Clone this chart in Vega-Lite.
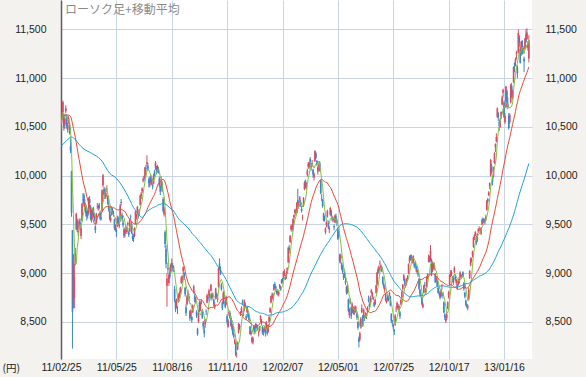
{
"$schema":"https://vega.github.io/schema/vega-lite/v6.json",
"width":471,"height":359,
"autosize":{"type":"none"},
"padding":{"left":61,"top":0,"right":54,"bottom":18},
"background":"#f4f2ef",
"view":{"fill":"#ffffff","stroke":null},
"datasets":{
"k":[
{"i":0,"o":10490,"h":10560,"l":10450,"c":10527},
{"i":1,"o":10570,"h":10650,"l":10540,"c":10624},
{"i":2,"o":10650,"h":10770,"l":10620,"c":10754},
{"i":3,"o":10620,"h":10640,"l":10460,"c":10492},
{"i":4,"o":10520,"h":10600,"l":10480,"c":10586},
{"i":5,"o":10660,"h":10720,"l":10640,"c":10693},
{"i":6,"o":10610,"h":10630,"l":10480,"c":10505},
{"i":7,"o":10470,"h":10540,"l":10440,"c":10525},
{"i":8,"o":10560,"h":10610,"l":10530,"c":10589},
{"i":9,"o":10520,"h":10540,"l":10420,"c":10434},
{"i":10,"o":10300,"h":10380,"l":10230,"c":10254},
{"i":11,"o":10044,"h":10050,"l":9578,"c":9620},
{"i":12,"o":9441,"h":9441,"l":8227,"c":8605},
{"i":13,"o":8728,"h":9194,"l":8640,"c":9093},
{"i":14,"o":8750,"h":9100,"l":8640,"c":8962},
{"i":15,"o":9100,"h":9260,"l":9080,"c":9206},
{"i":16,"o":9450,"h":9620,"l":9440,"c":9608},
{"i":17,"o":9540,"h":9560,"l":9420,"c":9449},
{"i":18,"o":9420,"h":9500,"l":9380,"c":9435},
{"i":19,"o":9500,"h":9560,"l":9470,"c":9536},
{"i":20,"o":9520,"h":9560,"l":9440,"c":9478},
{"i":21,"o":9380,"h":9480,"l":9350,"c":9459},
{"i":22,"o":9540,"h":9720,"l":9530,"c":9708},
{"i":23,"o":9760,"h":9820,"l":9710,"c":9755},
{"i":24,"o":9800,"h":9820,"l":9680,"c":9708},
{"i":25,"o":9680,"h":9760,"l":9650,"c":9718},
{"i":26,"o":9690,"h":9700,"l":9580,"c":9615},
{"i":27,"o":9620,"h":9640,"l":9540,"c":9584},
{"i":28,"o":9640,"h":9650,"l":9560,"c":9590},
{"i":29,"o":9620,"h":9780,"l":9600,"c":9768},
{"i":30,"o":9760,"h":9790,"l":9680,"c":9719},
{"i":31,"o":9680,"h":9700,"l":9540,"c":9555},
{"i":32,"o":9560,"h":9660,"l":9520,"c":9641},
{"i":33,"o":9620,"h":9670,"l":9590,"c":9653},
{"i":34,"o":9660,"h":9680,"l":9570,"c":9591},
{"i":35,"o":9590,"h":9620,"l":9530,"c":9556},
{"i":36,"o":9480,"h":9490,"l":9410,"c":9441},
{"i":37,"o":9520,"h":9620,"l":9500,"c":9606},
{"i":38,"o":9680,"h":9720,"l":9660,"c":9685},
{"i":39,"o":9670,"h":9700,"l":9640,"c":9682},
{"i":40,"o":9700,"h":9720,"l":9650,"c":9671},
{"i":41,"o":9620,"h":9630,"l":9540,"c":9558},
{"i":42,"o":9570,"h":9620,"l":9540,"c":9558},
{"i":43,"o":9640,"h":9860,"l":9630,"c":9850},
{"i":44,"o":9900,"h":10017,"l":9880,"c":10004},
{"i":45,"o":9800,"h":9880,"l":9760,"c":9859},
{"i":46,"o":9860,"h":9880,"l":9760,"c":9794},
{"i":47,"o":9780,"h":9830,"l":9760,"c":9818},
{"i":48,"o":9860,"h":9900,"l":9830,"c":9864},
{"i":49,"o":9790,"h":9800,"l":9700,"c":9716},
{"i":50,"o":9690,"h":9720,"l":9630,"c":9648},
{"i":51,"o":9640,"h":9660,"l":9540,"c":9558},
{"i":52,"o":9540,"h":9600,"l":9520,"c":9567},
{"i":53,"o":9610,"h":9680,"l":9590,"c":9662},
{"i":54,"o":9640,"h":9670,"l":9600,"c":9620},
{"i":55,"o":9610,"h":9640,"l":9580,"c":9607},
{"i":56,"o":9550,"h":9560,"l":9440,"c":9460},
{"i":57,"o":9450,"h":9500,"l":9430,"c":9477},
{"i":58,"o":9440,"h":9460,"l":9370,"c":9422},
{"i":59,"o":9480,"h":9590,"l":9470,"c":9562},
{"i":60,"o":9560,"h":9580,"l":9490,"c":9521},
{"i":61,"o":9480,"h":9530,"l":9460,"c":9504},
{"i":62,"o":9540,"h":9710,"l":9530,"c":9694},
{"i":63,"o":9730,"h":9760,"l":9690,"c":9720},
{"i":64,"o":9600,"h":9620,"l":9530,"c":9555},
{"i":65,"o":9520,"h":9550,"l":9470,"c":9492},
{"i":66,"o":9450,"h":9470,"l":9360,"c":9380},
{"i":67,"o":9400,"h":9460,"l":9370,"c":9442},
{"i":68,"o":9450,"h":9490,"l":9420,"c":9449},
{"i":69,"o":9420,"h":9480,"l":9400,"c":9467},
{"i":70,"o":9500,"h":9530,"l":9480,"c":9514},
{"i":71,"o":9420,"h":9440,"l":9370,"c":9392},
{"i":72,"o":9430,"h":9560,"l":9420,"c":9547},
{"i":73,"o":9580,"h":9600,"l":9550,"c":9574},
{"i":74,"o":9500,"h":9530,"l":9400,"c":9411},
{"i":75,"o":9380,"h":9410,"l":9330,"c":9351},
{"i":76,"o":9380,"h":9400,"l":9320,"c":9354},
{"i":77,"o":9380,"h":9470,"l":9370,"c":9459},
{"i":78,"o":9510,"h":9640,"l":9500,"c":9629},
{"i":79,"o":9570,"h":9610,"l":9550,"c":9596},
{"i":80,"o":9620,"h":9690,"l":9600,"c":9678},
{"i":81,"o":9600,"h":9620,"l":9560,"c":9578},
{"i":82,"o":9620,"h":9660,"l":9590,"c":9648},
{"i":83,"o":9700,"h":9800,"l":9690,"c":9797},
{"i":84,"o":9790,"h":9830,"l":9760,"c":9816},
{"i":85,"o":9840,"h":9880,"l":9820,"c":9868},
{"i":86,"o":9950,"h":9980,"l":9930,"c":9965},
{"i":87,"o":9990,"h":10000,"l":9940,"c":9972},
{"i":88,"o":9980,"h":10090,"l":9960,"c":10082},
{"i":89,"o":10080,"h":10110,"l":10040,"c":10071},
{"i":90,"o":10120,"h":10207,"l":10100,"c":10138},
{"i":91,"o":10100,"h":10130,"l":10050,"c":10069},
{"i":92,"o":9960,"h":9980,"l":9880,"c":9925},
{"i":93,"o":9900,"h":9990,"l":9880,"c":9963},
{"i":94,"o":9990,"h":10010,"l":9920,"c":9936},
{"i":95,"o":9920,"h":9990,"l":9900,"c":9974},
{"i":96,"o":9900,"h":9920,"l":9860,"c":9889},
{"i":97,"o":9920,"h":10020,"l":9910,"c":10005},
{"i":98,"o":10040,"h":10060,"l":9990,"c":10010},
{"i":99,"o":10080,"h":10150,"l":10060,"c":10132},
{"i":100,"o":10080,"h":10100,"l":10020,"c":10050},
{"i":101,"o":10040,"h":10110,"l":10030,"c":10097},
{"i":102,"o":10070,"h":10090,"l":10020,"c":10047},
{"i":103,"o":9970,"h":9990,"l":9880,"c":9901},
{"i":104,"o":9890,"h":9900,"l":9800,"c":9833},
{"i":105,"o":9900,"h":9990,"l":9880,"c":9965},
{"i":106,"o":9920,"h":9940,"l":9830,"c":9844},
{"i":107,"o":9760,"h":9780,"l":9620,"c":9637},
{"i":108,"o":9600,"h":9680,"l":9580,"c":9659},
{"i":109,"o":9420,"h":9440,"l":9260,"c":9299},
{"i":110,"o":9250,"h":9290,"l":9050,"c":9097},
{"i":111,"o":8870,"h":9000,"l":8656,"c":8944},
{"i":112,"o":9050,"h":9110,"l":9000,"c":9038},
{"i":113,"o":8900,"h":9000,"l":8870,"c":8981},
{"i":114,"o":9020,"h":9060,"l":8940,"c":8964},
{"i":115,"o":9020,"h":9100,"l":9000,"c":9086},
{"i":116,"o":9090,"h":9150,"l":9060,"c":9107},
{"i":117,"o":9080,"h":9100,"l":9020,"c":9057},
{"i":118,"o":9050,"h":9080,"l":9010,"c":9058},
{"i":119,"o":8840,"h":8870,"l":8700,"c":8719},
{"i":120,"o":8700,"h":8720,"l":8600,"c":8628},
{"i":121,"o":8660,"h":8740,"l":8640,"c":8733},
{"i":122,"o":8640,"h":8660,"l":8580,"c":8639},
{"i":123,"o":8710,"h":8790,"l":8700,"c":8772},
{"i":124,"o":8760,"h":8810,"l":8740,"c":8797},
{"i":125,"o":8800,"h":8860,"l":8790,"c":8851},
{"i":126,"o":8900,"h":8970,"l":8890,"c":8954},
{"i":127,"o":8940,"h":8980,"l":8900,"c":8955},
{"i":128,"o":9020,"h":9070,"l":8990,"c":9060},
{"i":129,"o":9000,"h":9010,"l":8930,"c":8950},
{"i":130,"o":8850,"h":8860,"l":8760,"c":8784},
{"i":131,"o":8650,"h":8680,"l":8560,"c":8590},
{"i":132,"o":8680,"h":8780,"l":8670,"c":8763},
{"i":133,"o":8790,"h":8830,"l":8760,"c":8793},
{"i":134,"o":8760,"h":8790,"l":8710,"c":8737},
{"i":135,"o":8610,"h":8620,"l":8510,"c":8535},
{"i":136,"o":8560,"h":8630,"l":8540,"c":8616},
{"i":137,"o":8550,"h":8560,"l":8490,"c":8518},
{"i":138,"o":8600,"h":8680,"l":8590,"c":8668},
{"i":139,"o":8800,"h":8880,"l":8790,"c":8864},
{"i":140,"o":8760,"h":8790,"l":8700,"c":8721},
{"i":141,"o":8700,"h":8760,"l":8690,"c":8741},
{"i":142,"o":8600,"h":8620,"l":8540,"c":8560},
{"i":143,"o":8430,"h":8440,"l":8359,"c":8374},
{"i":144,"o":8500,"h":8620,"l":8490,"c":8609},
{"i":145,"o":8700,"h":8720,"l":8600,"c":8615},
{"i":146,"o":8630,"h":8710,"l":8610,"c":8701},
{"i":147,"o":8710,"h":8730,"l":8680,"c":8700},
{"i":148,"o":8600,"h":8620,"l":8530,"c":8545},
{"i":149,"o":8490,"h":8510,"l":8420,"c":8456},
{"i":150,"o":8420,"h":8460,"l":8343,"c":8382},
{"i":151,"o":8470,"h":8530,"l":8440,"c":8522},
{"i":152,"o":8610,"h":8630,"l":8570,"c":8605},
{"i":153,"o":8700,"h":8790,"l":8690,"c":8773},
{"i":154,"o":8750,"h":8770,"l":8710,"c":8738},
{"i":155,"o":8770,"h":8840,"l":8750,"c":8823},
{"i":156,"o":8780,"h":8790,"l":8720,"c":8747},
{"i":157,"o":8820,"h":8890,"l":8810,"c":8879},
{"i":158,"o":8790,"h":8800,"l":8720,"c":8742},
{"i":159,"o":8760,"h":8800,"l":8740,"c":8772},
{"i":160,"o":8730,"h":8740,"l":8660,"c":8682},
{"i":161,"o":8650,"h":8700,"l":8630,"c":8678},
{"i":162,"o":8740,"h":8850,"l":8730,"c":8843},
{"i":163,"o":8790,"h":8800,"l":8740,"c":8762},
{"i":164,"o":8730,"h":8780,"l":8700,"c":8748},
{"i":165,"o":8860,"h":9060,"l":8850,"c":9050},
{"i":166,"o":9100,"h":9152,"l":9030,"c":9050},
{"i":167,"o":9040,"h":9070,"l":8980,"c":8988},
{"i":168,"o":8880,"h":8900,"l":8820,"c":8835},
{"i":169,"o":8700,"h":8710,"l":8620,"c":8640},
{"i":170,"o":8690,"h":8820,"l":8680,"c":8801},
{"i":171,"o":8780,"h":8800,"l":8730,"c":8767},
{"i":172,"o":8720,"h":8730,"l":8640,"c":8655},
{"i":173,"o":8680,"h":8770,"l":8670,"c":8755},
{"i":174,"o":8560,"h":8580,"l":8475,"c":8500},
{"i":175,"o":8450,"h":8530,"l":8440,"c":8514},
{"i":176,"o":8580,"h":8620,"l":8560,"c":8603},
{"i":177,"o":8590,"h":8610,"l":8530,"c":8541},
{"i":178,"o":8540,"h":8560,"l":8450,"c":8463},
{"i":179,"o":8430,"h":8490,"l":8410,"c":8479},
{"i":180,"o":8450,"h":8460,"l":8360,"c":8374},
{"i":181,"o":8370,"h":8390,"l":8330,"c":8348},
{"i":182,"o":8280,"h":8330,"l":8270,"c":8314},
{"i":183,"o":8280,"h":8290,"l":8150,"c":8165},
{"i":184,"o":8160,"h":8190,"l":8135,"c":8160},
{"i":185,"o":8220,"h":8300,"l":8210,"c":8287},
{"i":186,"o":8390,"h":8490,"l":8380,"c":8477},
{"i":187,"o":8470,"h":8480,"l":8420,"c":8434},
{"i":188,"o":8570,"h":8610,"l":8560,"c":8597},
{"i":189,"o":8600,"h":8660,"l":8590,"c":8643},
{"i":190,"o":8700,"h":8730,"l":8670,"c":8695},
{"i":191,"o":8610,"h":8620,"l":8560,"c":8575},
{"i":192,"o":8620,"h":8730,"l":8610,"c":8722},
{"i":193,"o":8680,"h":8700,"l":8640,"c":8664},
{"i":194,"o":8560,"h":8580,"l":8520,"c":8536},
{"i":195,"o":8600,"h":8660,"l":8590,"c":8653},
{"i":196,"o":8590,"h":8600,"l":8540,"c":8553},
{"i":197,"o":8550,"h":8570,"l":8500,"c":8519},
{"i":198,"o":8450,"h":8460,"l":8370,"c":8377},
{"i":199,"o":8370,"h":8420,"l":8360,"c":8401},
{"i":200,"o":8340,"h":8350,"l":8280,"c":8296},
{"i":201,"o":8290,"h":8350,"l":8270,"c":8336},
{"i":202,"o":8420,"h":8470,"l":8400,"c":8459},
{"i":203,"o":8450,"h":8460,"l":8380,"c":8395},
{"i":204,"o":8440,"h":8490,"l":8430,"c":8479},
{"i":205,"o":8470,"h":8480,"l":8430,"c":8440},
{"i":206,"o":8440,"h":8460,"l":8410,"c":8423},
{"i":207,"o":8390,"h":8410,"l":8350,"c":8398},
{"i":208,"o":8410,"h":8460,"l":8400,"c":8455},
{"i":209,"o":8520,"h":8570,"l":8500,"c":8560},
{"i":210,"o":8510,"h":8530,"l":8470,"c":8488},
{"i":211,"o":8450,"h":8460,"l":8370,"c":8390},
{"i":212,"o":8410,"h":8430,"l":8360,"c":8422},
{"i":213,"o":8410,"h":8460,"l":8400,"c":8447},
{"i":214,"o":8420,"h":8430,"l":8350,"c":8385},
{"i":215,"o":8430,"h":8510,"l":8420,"c":8500},
{"i":216,"o":8420,"h":8440,"l":8360,"c":8378},
{"i":217,"o":8400,"h":8480,"l":8390,"c":8466},
{"i":218,"o":8500,"h":8560,"l":8490,"c":8550},
{"i":219,"o":8600,"h":8650,"l":8590,"c":8639},
{"i":220,"o":8700,"h":8770,"l":8690,"c":8766},
{"i":221,"o":8770,"h":8800,"l":8740,"c":8765},
{"i":222,"o":8740,"h":8800,"l":8720,"c":8785},
{"i":223,"o":8830,"h":8890,"l":8820,"c":8883},
{"i":224,"o":8890,"h":8910,"l":8840,"c":8849},
{"i":225,"o":8860,"h":8870,"l":8810,"c":8841},
{"i":226,"o":8820,"h":8830,"l":8780,"c":8793},
{"i":227,"o":8790,"h":8820,"l":8770,"c":8802},
{"i":228,"o":8780,"h":8820,"l":8760,"c":8809},
{"i":229,"o":8860,"h":8890,"l":8840,"c":8876},
{"i":230,"o":8860,"h":8870,"l":8820,"c":8831},
{"i":231,"o":8900,"h":8940,"l":8890,"c":8929},
{"i":232,"o":8940,"h":8950,"l":8900,"c":8917},
{"i":233,"o":8950,"h":9020,"l":8940,"c":9015},
{"i":234,"o":9000,"h":9040,"l":8970,"c":9002},
{"i":235,"o":8960,"h":8980,"l":8930,"c":8947},
{"i":236,"o":8960,"h":9020,"l":8940,"c":8999},
{"i":237,"o":9000,"h":9060,"l":8990,"c":9052},
{"i":238,"o":9110,"h":9270,"l":9100,"c":9260},
{"i":239,"o":9260,"h":9290,"l":9200,"c":9238},
{"i":240,"o":9320,"h":9390,"l":9310,"c":9384},
{"i":241,"o":9450,"h":9500,"l":9430,"c":9485},
{"i":242,"o":9480,"h":9500,"l":9420,"c":9463},
{"i":243,"o":9450,"h":9560,"l":9440,"c":9554},
{"i":244,"o":9570,"h":9600,"l":9520,"c":9595},
{"i":245,"o":9620,"h":9660,"l":9600,"c":9647},
{"i":246,"o":9640,"h":9660,"l":9590,"c":9633},
{"i":247,"o":9620,"h":9730,"l":9610,"c":9722},
{"i":248,"o":9750,"h":9866,"l":9690,"c":9723},
{"i":249,"o":9680,"h":9740,"l":9660,"c":9707},
{"i":250,"o":9750,"h":9790,"l":9720,"c":9777},
{"i":251,"o":9730,"h":9750,"l":9680,"c":9698},
{"i":252,"o":9660,"h":9690,"l":9620,"c":9637},
{"i":253,"o":9570,"h":9600,"l":9540,"c":9576},
{"i":254,"o":9690,"h":9780,"l":9680,"c":9768},
{"i":255,"o":9860,"h":9940,"l":9850,"c":9929},
{"i":256,"o":9950,"h":9960,"l":9870,"c":9889},
{"i":257,"o":9890,"h":9930,"l":9860,"c":9899},
{"i":258,"o":10010,"h":10070,"l":9990,"c":10050},
{"i":259,"o":10090,"h":10140,"l":10070,"c":10123},
{"i":260,"o":10090,"h":10140,"l":10070,"c":10129},
{"i":261,"o":10170,"h":10190,"l":10110,"c":10141},
{"i":262,"o":10100,"h":10130,"l":10050,"c":10086},
{"i":263,"o":10120,"h":10160,"l":10090,"c":10127},
{"i":264,"o":10060,"h":10070,"l":9980,"c":10011},
{"i":265,"o":9980,"h":10030,"l":9950,"c":10018},
{"i":266,"o":10150,"h":10255,"l":10140,"c":10255},
{"i":267,"o":10230,"h":10240,"l":10170,"c":10182},
{"i":268,"o":10150,"h":10160,"l":10100,"c":10115},
{"i":269,"o":10040,"h":10100,"l":10010,"c":10083},
{"i":270,"o":10100,"h":10130,"l":10060,"c":10109},
{"i":271,"o":10130,"h":10150,"l":10040,"c":10050},
{"i":272,"o":9950,"h":9960,"l":9810,"c":9819},
{"i":273,"o":9770,"h":9810,"l":9740,"c":9767},
{"i":274,"o":9750,"h":9760,"l":9670,"c":9688},
{"i":275,"o":9610,"h":9620,"l":9530,"c":9546},
{"i":276,"o":9570,"h":9590,"l":9530,"c":9538},
{"i":277,"o":9420,"h":9470,"l":9400,"c":9458},
{"i":278,"o":9490,"h":9540,"l":9470,"c":9524},
{"i":279,"o":9580,"h":9650,"l":9570,"c":9637},
{"i":280,"o":9520,"h":9540,"l":9450,"c":9470},
{"i":281,"o":9450,"h":9480,"l":9410,"c":9464},
{"i":282,"o":9600,"h":9680,"l":9590,"c":9667},
{"i":283,"o":9640,"h":9650,"l":9570,"c":9588},
{"i":284,"o":9550,"h":9590,"l":9530,"c":9561},
{"i":285,"o":9560,"h":9580,"l":9520,"c":9542},
{"i":286,"o":9480,"h":9500,"l":9440,"c":9468},
{"i":287,"o":9520,"h":9600,"l":9510,"c":9590},
{"i":288,"o":9580,"h":9610,"l":9540,"c":9561},
{"i":289,"o":9540,"h":9560,"l":9480,"c":9520},
{"i":290,"o":9450,"h":9470,"l":9340,"c":9350},
{"i":291,"o":9390,"h":9420,"l":9360,"c":9380},
{"i":292,"o":9190,"h":9200,"l":9100,"c":9119},
{"i":293,"o":9150,"h":9200,"l":9100,"c":9181},
{"i":294,"o":9100,"h":9110,"l":9030,"c":9045},
{"i":295,"o":9060,"h":9080,"l":8990,"c":9009},
{"i":296,"o":8980,"h":9000,"l":8930,"c":8953},
{"i":297,"o":8990,"h":9020,"l":8950,"c":8973},
{"i":298,"o":8920,"h":8960,"l":8880,"c":8900},
{"i":299,"o":8860,"h":8870,"l":8780,"c":8801},
{"i":300,"o":8800,"h":8890,"l":8790,"c":8876},
{"i":301,"o":8730,"h":8740,"l":8600,"c":8611},
{"i":302,"o":8570,"h":8640,"l":8540,"c":8634},
{"i":303,"o":8690,"h":8740,"l":8680,"c":8729},
{"i":304,"o":8650,"h":8660,"l":8530,"c":8556},
{"i":305,"o":8600,"h":8700,"l":8590,"c":8680},
{"i":306,"o":8650,"h":8660,"l":8580,"c":8593},
{"i":307,"o":8580,"h":8620,"l":8570,"c":8593},
{"i":308,"o":8600,"h":8670,"l":8590,"c":8657},
{"i":309,"o":8630,"h":8660,"l":8600,"c":8633},
{"i":310,"o":8590,"h":8600,"l":8520,"c":8543},
{"i":311,"o":8500,"h":8510,"l":8420,"c":8440},
{"i":312,"o":8330,"h":8350,"l":8238,"c":8296},
{"i":313,"o":8320,"h":8400,"l":8300,"c":8383},
{"i":314,"o":8440,"h":8550,"l":8430,"c":8533},
{"i":315,"o":8600,"h":8680,"l":8590,"c":8639},
{"i":316,"o":8560,"h":8570,"l":8450,"c":8459},
{"i":317,"o":8540,"h":8640,"l":8530,"c":8624},
{"i":318,"o":8560,"h":8570,"l":8510,"c":8536},
{"i":319,"o":8560,"h":8600,"l":8540,"c":8568},
{"i":320,"o":8560,"h":8590,"l":8530,"c":8568},
{"i":321,"o":8600,"h":8660,"l":8590,"c":8647},
{"i":322,"o":8730,"h":8770,"l":8700,"c":8721},
{"i":323,"o":8680,"h":8700,"l":8630,"c":8655},
{"i":324,"o":8700,"h":8770,"l":8690,"c":8752},
{"i":325,"o":8800,"h":8840,"l":8790,"c":8824},
{"i":326,"o":8760,"h":8810,"l":8740,"c":8798},
{"i":327,"o":8750,"h":8760,"l":8720,"c":8735},
{"i":328,"o":8700,"h":8710,"l":8650,"c":8663},
{"i":329,"o":8680,"h":8740,"l":8670,"c":8730},
{"i":330,"o":8800,"h":8880,"l":8790,"c":8874},
{"i":331,"o":8880,"h":9010,"l":8870,"c":9007},
{"i":332,"o":9040,"h":9060,"l":8990,"c":9003},
{"i":333,"o":9020,"h":9080,"l":9000,"c":9066},
{"i":334,"o":9100,"h":9130,"l":9080,"c":9104},
{"i":335,"o":9060,"h":9090,"l":9040,"c":9079},
{"i":336,"o":9060,"h":9070,"l":9010,"c":9020},
{"i":337,"o":8960,"h":8970,"l":8880,"c":8896},
{"i":338,"o":8890,"h":8900,"l":8840,"c":8857},
{"i":339,"o":8830,"h":8870,"l":8800,"c":8851},
{"i":340,"o":8790,"h":8800,"l":8710,"c":8720},
{"i":341,"o":8700,"h":8740,"l":8690,"c":8724},
{"i":342,"o":8740,"h":8780,"l":8720,"c":8755},
{"i":343,"o":8760,"h":8770,"l":8710,"c":8726},
{"i":344,"o":8780,"h":8810,"l":8760,"c":8795},
{"i":345,"o":8760,"h":8770,"l":8660,"c":8669},
{"i":346,"o":8580,"h":8590,"l":8490,"c":8508},
{"i":347,"o":8490,"h":8520,"l":8460,"c":8488},
{"i":348,"o":8470,"h":8480,"l":8420,"c":8443},
{"i":349,"o":8420,"h":8430,"l":8365,"c":8399},
{"i":350,"o":8470,"h":8580,"l":8460,"c":8566},
{"i":351,"o":8630,"h":8660,"l":8600,"c":8635},
{"i":352,"o":8650,"h":8710,"l":8630,"c":8695},
{"i":353,"o":8660,"h":8680,"l":8620,"c":8640},
{"i":354,"o":8620,"h":8680,"l":8600,"c":8664},
{"i":355,"o":8600,"h":8610,"l":8530,"c":8555},
{"i":356,"o":8680,"h":8740,"l":8670,"c":8726},
{"i":357,"o":8750,"h":8820,"l":8740,"c":8804},
{"i":358,"o":8840,"h":8890,"l":8820,"c":8882},
{"i":359,"o":8930,"h":8990,"l":8920,"c":8978},
{"i":360,"o":8940,"h":8950,"l":8870,"c":8891},
{"i":361,"o":8870,"h":8900,"l":8850,"c":8885},
{"i":362,"o":8900,"h":8950,"l":8880,"c":8929},
{"i":363,"o":8960,"h":8980,"l":8920,"c":8947},
{"i":364,"o":9000,"h":9100,"l":8990,"c":9092},
{"i":365,"o":9120,"h":9180,"l":9100,"c":9162},
{"i":366,"o":9180,"h":9190,"l":9130,"c":9171},
{"i":367,"o":9170,"h":9190,"l":9130,"c":9157},
{"i":368,"o":9130,"h":9160,"l":9100,"c":9131},
{"i":369,"o":9110,"h":9180,"l":9100,"c":9178},
{"i":370,"o":9100,"h":9110,"l":9050,"c":9070},
{"i":371,"o":9100,"h":9120,"l":9060,"c":9085},
{"i":372,"o":9070,"h":9080,"l":9010,"c":9034},
{"i":373,"o":9010,"h":9050,"l":8990,"c":9033},
{"i":374,"o":9000,"h":9010,"l":8960,"c":8983},
{"i":375,"o":8940,"h":8950,"l":8830,"c":8840},
{"i":376,"o":8830,"h":8840,"l":8760,"c":8783},
{"i":377,"o":8780,"h":8800,"l":8750,"c":8775},
{"i":378,"o":8750,"h":8760,"l":8670,"c":8680},
{"i":379,"o":8650,"h":8700,"l":8640,"c":8680},
{"i":380,"o":8800,"h":8880,"l":8790,"c":8872},
{"i":381,"o":8880,"h":8910,"l":8850,"c":8869},
{"i":382,"o":8830,"h":8850,"l":8790,"c":8807},
{"i":383,"o":8860,"h":8970,"l":8850,"c":8959},
{"i":384,"o":8960,"h":9000,"l":8940,"c":8995},
{"i":385,"o":9120,"h":9190,"l":9110,"c":9159},
{"i":386,"o":9170,"h":9180,"l":9110,"c":9123},
{"i":387,"o":9130,"h":9288,"l":9120,"c":9232},
{"i":388,"o":9140,"h":9150,"l":8970,"c":8977},
{"i":389,"o":9020,"h":9120,"l":9010,"c":9110},
{"i":390,"o":9080,"h":9100,"l":9040,"c":9069},
{"i":391,"o":9040,"h":9110,"l":9030,"c":9091},
{"i":392,"o":8990,"h":9000,"l":8900,"c":8906},
{"i":393,"o":8930,"h":8960,"l":8910,"c":8949},
{"i":394,"o":8920,"h":8940,"l":8860,"c":8870},
{"i":395,"o":8850,"h":8860,"l":8790,"c":8797},
{"i":396,"o":8790,"h":8820,"l":8770,"c":8786},
{"i":397,"o":8800,"h":8810,"l":8730,"c":8746},
{"i":398,"o":8760,"h":8840,"l":8750,"c":8824},
{"i":399,"o":8860,"h":8890,"l":8830,"c":8863},
{"i":400,"o":8790,"h":8810,"l":8740,"c":8769},
{"i":401,"o":8700,"h":8710,"l":8590,"c":8596},
{"i":402,"o":8580,"h":8590,"l":8520,"c":8546},
{"i":403,"o":8510,"h":8560,"l":8488,"c":8534},
{"i":404,"o":8540,"h":8600,"l":8520,"c":8577},
{"i":405,"o":8640,"h":8710,"l":8630,"c":8701},
{"i":406,"o":8750,"h":8820,"l":8740,"c":8806},
{"i":407,"o":8880,"h":8990,"l":8870,"c":8982},
{"i":408,"o":8990,"h":9030,"l":8960,"c":9002},
{"i":409,"o":8990,"h":9030,"l":8970,"c":9010},
{"i":410,"o":8960,"h":8970,"l":8910,"c":8930},
{"i":411,"o":8900,"h":8970,"l":8880,"c":8955},
{"i":412,"o":9010,"h":9070,"l":9000,"c":9055},
{"i":413,"o":8980,"h":8990,"l":8920,"c":8933},
{"i":414,"o":8900,"h":8940,"l":8880,"c":8929},
{"i":415,"o":8880,"h":8890,"l":8830,"c":8841},
{"i":416,"o":8880,"h":8940,"l":8870,"c":8928},
{"i":417,"o":8900,"h":8960,"l":8890,"c":8946},
{"i":418,"o":8960,"h":9020,"l":8950,"c":9007},
{"i":419,"o":8970,"h":8990,"l":8940,"c":8975},
{"i":420,"o":8980,"h":8990,"l":8950,"c":8975},
{"i":421,"o":9010,"h":9020,"l":8960,"c":8972},
{"i":422,"o":8900,"h":8910,"l":8820,"c":8837},
{"i":423,"o":8800,"h":8810,"l":8740,"c":8757},
{"i":424,"o":8720,"h":8730,"l":8660,"c":8676},
{"i":425,"o":8680,"h":8690,"l":8640,"c":8661},
{"i":426,"o":8640,"h":8680,"l":8619,"c":8664},
{"i":427,"o":8740,"h":8850,"l":8730,"c":8830},
{"i":428,"o":8950,"h":9030,"l":8940,"c":9024},
{"i":429,"o":9080,"h":9160,"l":9070,"c":9153},
{"i":430,"o":9130,"h":9160,"l":9110,"c":9142},
{"i":431,"o":9180,"h":9230,"l":9160,"c":9222},
{"i":432,"o":9270,"h":9370,"l":9260,"c":9366},
{"i":433,"o":9370,"h":9400,"l":9340,"c":9389},
{"i":434,"o":9400,"h":9430,"l":9380,"c":9423},
{"i":435,"o":9370,"h":9380,"l":9290,"c":9308},
{"i":436,"o":9330,"h":9410,"l":9320,"c":9400},
{"i":437,"o":9430,"h":9460,"l":9410,"c":9446},
{"i":438,"o":9450,"h":9480,"l":9430,"c":9458},
{"i":439,"o":9430,"h":9450,"l":9400,"c":9432},
{"i":440,"o":9410,"h":9470,"l":9390,"c":9468},
{"i":441,"o":9500,"h":9560,"l":9490,"c":9545},
{"i":442,"o":9560,"h":9570,"l":9510,"c":9527},
{"i":443,"o":9530,"h":9560,"l":9510,"c":9534},
{"i":444,"o":9550,"h":9560,"l":9500,"c":9525},
{"i":445,"o":9560,"h":9600,"l":9540,"c":9581},
{"i":446,"o":9650,"h":9750,"l":9640,"c":9742},
{"i":447,"o":9760,"h":9770,"l":9720,"c":9737},
{"i":448,"o":9800,"h":9840,"l":9790,"c":9828},
{"i":449,"o":9890,"h":9930,"l":9860,"c":9923},
{"i":450,"o":10000,"h":10170,"l":9990,"c":10160},
{"i":451,"o":10100,"h":10120,"l":10020,"c":10039},
{"i":452,"o":9990,"h":10000,"l":9900,"c":9940},
{"i":453,"o":9990,"h":10090,"l":9980,"c":10080},
{"i":454,"o":10130,"h":10240,"l":10120,"c":10230},
{"i":455,"o":10290,"h":10330,"l":10240,"c":10322},
{"i":456,"o":10350,"h":10433,"l":10340,"c":10395},
{"i":457,"o":10600,"h":10700,"l":10590,"c":10688},
{"i":458,"o":10640,"h":10650,"l":10560,"c":10599},
{"i":459,"o":10550,"h":10560,"l":10460,"c":10508},
{"i":460,"o":10500,"h":10590,"l":10490,"c":10578},
{"i":461,"o":10600,"h":10660,"l":10580,"c":10652},
{"i":462,"o":10730,"h":10820,"l":10720,"c":10801},
{"i":463,"o":10850,"h":10890,"l":10800,"c":10879},
{"i":464,"o":10750,"h":10770,"l":10590,"c":10600},
{"i":465,"o":10550,"h":10640,"l":10530,"c":10610},
{"i":466,"o":10700,"h":10920,"l":10690,"c":10913},
{"i":467,"o":10870,"h":10880,"l":10740,"c":10748},
{"i":468,"o":10740,"h":10800,"l":10680,"c":10709},
{"i":469,"o":10620,"h":10640,"l":10470,"c":10487},
{"i":470,"o":10550,"h":10640,"l":10530,"c":10620},
{"i":471,"o":10750,"h":10940,"l":10740,"c":10926},
{"i":472,"o":10920,"h":10950,"l":10800,"c":10824},
{"i":473,"o":10800,"h":10880,"l":10780,"c":10866},
{"i":474,"o":10960,"h":11120,"l":10950,"c":11113},
{"i":475,"o":11150,"h":11160,"l":11060,"c":11138},
{"i":476,"o":11160,"h":11210,"l":11120,"c":11191},
{"i":477,"o":11250,"h":11280,"l":11190,"c":11260},
{"i":478,"o":11110,"h":11130,"l":11000,"c":11046},
{"i":479,"o":11260,"h":11498,"l":11250,"c":11463},
{"i":480,"o":11420,"h":11440,"l":11320,"c":11357},
{"i":481,"o":11300,"h":11320,"l":11150,"c":11153},
{"i":482,"o":11250,"h":11380,"l":11230,"c":11369},
{"i":483,"o":11380,"h":11390,"l":11240,"c":11251},
{"i":484,"o":11290,"h":11330,"l":11250,"c":11307},
{"i":485,"o":11200,"h":11220,"l":11060,"c":11173},
{"i":486,"o":11300,"h":11410,"l":11290,"c":11407},
{"i":487,"o":11450,"h":11500,"l":11360,"c":11372},
{"i":488,"o":11400,"h":11510,"l":11390,"c":11468},
{"i":489,"o":11350,"h":11380,"l":11280,"c":11310},
{"i":490,"o":11200,"h":11440,"l":11160,"c":11385}
],
"r0":[{"i":0,"v":10600},{"i":4,"v":10620},{"i":8,"v":10620},{"i":10,"v":10605},{"i":11,"v":10580},{"i":12,"v":10530},{"i":14,"v":10440},{"i":16,"v":10340},{"i":18,"v":10220},{"i":20,"v":10110},{"i":22,"v":10000},{"i":24,"v":9904}],
"b0":[{"i":0,"v":10300},{"i":6,"v":10360},{"i":11,"v":10395},{"i":15,"v":10370},{"i":19,"v":10320},{"i":23,"v":10280},{"i":32,"v":10229},{"i":42,"v":10160},{"i":51,"v":10024},{"i":58,"v":9972},{"i":66,"v":9862},{"i":74,"v":9712}],
"ttl":[{"t":"ローソク足+移動平均","i":0,"v":11800}]
},
"data":{"name":"k"},
"encoding":{
"x":{"field":"i","type":"quantitative","scale":{"domain":[0,493.3],"nice":false,"zero":false},
"axis":{"orient":"bottom","title":null,"values":[0,58,116,174,232,290,348,406,464],
"labelExpr":"['11/02/25','11/05/25','11/08/16','11/11/10','12/02/07','12/05/01','12/07/25','12/10/17','13/01/16'][round(datum.value/58)]",
"labelFont":"Liberation Sans","labelFontSize":10.5,"labelColor":"#222222","labelPadding":3,"labelFlush":false,"labelOverlap":false,
"ticks":false,"domain":false,"grid":true,"gridColor":"#c9d4e4","gridWidth":1}}
},
"layer":[
{"mark":{"type":"rule","strokeWidth":1,"clip":true},
"encoding":{
"y":{"field":"l","type":"quantitative","scale":{"domain":[8120,11800],"nice":false,"zero":false},
"axis":{"orient":"left","title":"(円)","titleAngle":0,"titleX":-59,"titleY":368,"titleAlign":"left","titleBaseline":"middle","titleFont":"Noto Sans CJK JP","titleFontSize":10.5,"titleFontWeight":"normal","titleColor":"#222222",
"values":[8500,9000,9500,10000,10500,11000,11500],"format":",.0f","labelFont":"Liberation Sans","labelFontSize":10.5,"labelColor":"#222222","labelPadding":15,
"ticks":false,"domain":true,"domainColor":"#5e5e5e","domainWidth":1.5,"grid":true,"gridColor":"#c9d4e4","gridWidth":1}},
"y2":{"field":"h"},
"color":{"condition":{"test":"datum.c >= datum.o","value":"#dd4a63"},"value":"#3d86c6"}}},
{"mark":{"type":"rule","strokeWidth":1.6,"clip":true},
"encoding":{
"y":{"field":"o","type":"quantitative","scale":{"domain":[8120,11800],"nice":false,"zero":false},
"axis":{"orient":"right","title":null,"values":[8500,9000,9500,10000,10500,11000,11500],"format":",.0f","labelFont":"Liberation Sans","labelFontSize":10.5,"labelColor":"#222222","labelPadding":13,"labelAlign":"left",
"ticks":false,"domain":false,"grid":false}},
"y2":{"field":"c"},
"color":{"condition":{"test":"datum.c >= datum.o","value":"#dd4a63"},"value":"#3d86c6"}}},
{"transform":[{"window":[{"op":"mean","field":"c","as":"m5"}],"frame":[-4,0],"sort":[{"field":"i"}]}],
"mark":{"type":"line","color":"#7cc242","strokeWidth":1,"clip":true},
"encoding":{"y":{"field":"m5","type":"quantitative","scale":{"domain":[8120,11800],"nice":false,"zero":false},"axis":null}}},
{"transform":[{"window":[{"op":"mean","field":"c","as":"m25"}],"frame":[-24,0],"sort":[{"field":"i"}]},{"filter":"datum.i >= 24"}],
"mark":{"type":"line","color":"#f0452f","strokeWidth":1,"clip":true},
"encoding":{"y":{"field":"m25","type":"quantitative","scale":{"domain":[8120,11800],"nice":false,"zero":false},"axis":null}}},
{"data":{"name":"r0"},
"mark":{"type":"line","color":"#f0452f","strokeWidth":1,"clip":true,"interpolate":"monotone"},
"encoding":{"y":{"field":"v","type":"quantitative","scale":{"domain":[8120,11800],"nice":false,"zero":false},"axis":null}}},
{"transform":[{"window":[{"op":"mean","field":"c","as":"m75"}],"frame":[-74,0],"sort":[{"field":"i"}]},{"filter":"datum.i >= 74"}],
"mark":{"type":"line","color":"#1d9fd8","strokeWidth":1,"clip":true},
"encoding":{"y":{"field":"m75","type":"quantitative","scale":{"domain":[8120,11800],"nice":false,"zero":false},"axis":null}}},
{"data":{"name":"b0"},
"mark":{"type":"line","color":"#1d9fd8","strokeWidth":1,"clip":true,"interpolate":"monotone"},
"encoding":{"y":{"field":"v","type":"quantitative","scale":{"domain":[8120,11800],"nice":false,"zero":false},"axis":null}}},
{"data":{"name":"ttl"},
"mark":{"type":"text","align":"left","baseline":"top","dx":4,"dy":5,"font":"Noto Sans CJK JP","fontSize":12,"color":"#8a8a8a"},
"encoding":{"text":{"field":"t"},"y":{"field":"v","type":"quantitative","scale":{"domain":[8120,11800],"nice":false,"zero":false},"axis":null}}}
],
"resolve":{"axis":{"y":"independent"}}
}
